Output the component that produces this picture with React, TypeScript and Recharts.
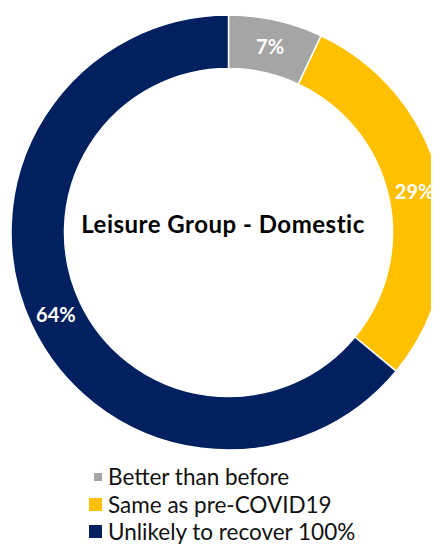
import React from "react";
import { PieChart, Pie, Cell, Legend } from "recharts";

const categories = ["Better than before", "Same as pre-COVID19", "Unlikely to recover 100%"];
const values = [7, 29, 64];
const colors = ["#A5A5A5", "#FFC000", "#002060"];
const swatchSizes = [8, 13, 13];
const title = "Leisure Group - Domestic";

const data = categories.map((name, i) => ({ name, value: values[i] }));

const RADIAN = Math.PI / 180;
const FONT = "Lato, 'Open Sans', sans-serif";

const renderLabel = (props: any) => {
  const { cx, cy, midAngle, innerRadius, outerRadius, value } = props;
  const r = (innerRadius + outerRadius) / 2;
  const x = cx + r * Math.cos(-midAngle * RADIAN);
  const y = cy + r * Math.sin(-midAngle * RADIAN);
  return (
    <text
      x={x}
      y={y}
      fill="#FFFFFF"
      textAnchor="middle"
      dominantBaseline="central"
      fontFamily={FONT}
      fontWeight={700}
      fontSize={20}
    >
      {`${value}%`}
    </text>
  );
};

const renderLegend = () => (
  <div style={{ fontFamily: FONT }}>
    {categories.map((c, i) => (
      <div key={c} style={{ display: "flex", alignItems: "center", height: 27.5 }}>
        <div style={{ width: 14, display: "flex", justifyContent: "flex-end" }}>
          <div style={{ width: swatchSizes[i], height: swatchSizes[i], background: colors[i] }} />
        </div>
        <span style={{ marginLeft: 6, fontSize: 22.5, color: "#111", lineHeight: "27px" }}>{c}</span>
      </div>
    ))}
  </div>
);

export default function App() {
  return (
    <PieChart width={431} height={536} margin={{ top: 0, right: 0, bottom: 0, left: 0 }}>
      <Pie
        data={data}
        dataKey="value"
        cx={220.5}
        cy={224.5}
        innerRadius={164}
        outerRadius={217.5}
        startAngle={90}
        endAngle={-270}
        stroke="#FFFFFF"
        strokeWidth={1.5}
        label={renderLabel}
        labelLine={false}
        isAnimationActive={false}
      >
        {data.map((d, i) => (
          <Cell key={d.name} fill={colors[i]} />
        ))}
      </Pie>
      <text
        x={215}
        y={215}
        textAnchor="middle"
        dominantBaseline="central"
        fontFamily={FONT}
        fontWeight={700}
        fontSize={24}
        letterSpacing={0.5}
        fill="#000"
      >
        {title}
      </text>
      <Legend
        content={renderLegend}
        wrapperStyle={{ position: "absolute", left: 80, top: 455, width: 340 }}
      />
    </PieChart>
  );
}
